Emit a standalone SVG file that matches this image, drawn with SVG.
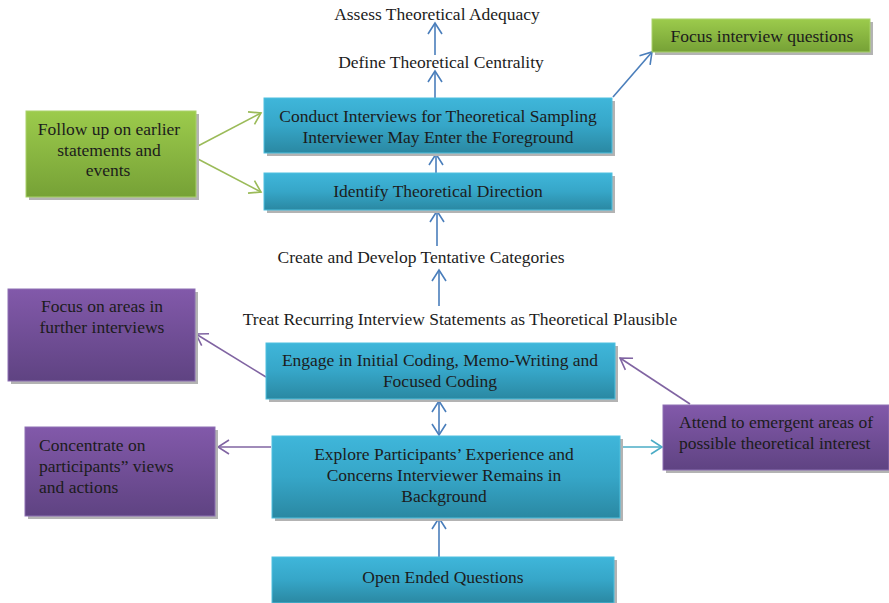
<svg xmlns="http://www.w3.org/2000/svg" width="889" height="603" viewBox="0 0 889 603">
  <style>
    text { font-family: "Liberation Serif", "Times New Roman", serif; font-size: 17.5px; fill: #1c1c1c; }
    .c { text-anchor: middle; }
    .shadow { fill: #b3b3b3; }
    .blue { fill: url(#gBlue); stroke: #4fc0df; stroke-width: 1; }
    .green { fill: url(#gGreen); stroke: #a9d26a; stroke-width: 1; }
    .purple { fill: url(#gPurple); stroke: #8d70b3; stroke-width: 1; }
    .ab { stroke: #4a7ebb; stroke-width: 1.6; fill: none; marker-end: url(#mBlue); }
    .ag { stroke: #9bbb59; stroke-width: 1.6; fill: none; marker-end: url(#mGreen); }
    .ap { stroke: #8064a2; stroke-width: 1.6; fill: none; marker-end: url(#mPurple); }
    .at { stroke: #4bacc6; stroke-width: 1.6; fill: none; marker-end: url(#mTeal); }
  </style>
  <defs>
    <linearGradient id="gBlue" x1="0" y1="0" x2="0" y2="1">
      <stop offset="0" stop-color="#3fb6da"/>
      <stop offset="0.5" stop-color="#36a6c8"/>
      <stop offset="1" stop-color="#2a88a2"/>
    </linearGradient>
    <linearGradient id="gGreen" x1="0" y1="0" x2="0" y2="1">
      <stop offset="0" stop-color="#9ccb4c"/>
      <stop offset="1" stop-color="#76a136"/>
    </linearGradient>
    <linearGradient id="gPurple" x1="0" y1="0" x2="0" y2="1">
      <stop offset="0" stop-color="#8259aa"/>
      <stop offset="1" stop-color="#5f4382"/>
    </linearGradient>
    <marker id="mBlue" markerUnits="userSpaceOnUse" viewBox="-12 -8 14 16" markerWidth="14" markerHeight="16" refX="0" refY="0" orient="auto-start-reverse">
      <path d="M-11,-7 L0,0 L-11,7" fill="none" stroke="#4a7ebb" stroke-width="1.6"/>
    </marker>
    <marker id="mGreen" markerUnits="userSpaceOnUse" viewBox="-12 -8 14 16" markerWidth="14" markerHeight="16" refX="0" refY="0" orient="auto">
      <path d="M-11,-7 L0,0 L-11,7" fill="none" stroke="#9bbb59" stroke-width="1.6"/>
    </marker>
    <marker id="mPurple" markerUnits="userSpaceOnUse" viewBox="-12 -8 14 16" markerWidth="14" markerHeight="16" refX="0" refY="0" orient="auto">
      <path d="M-11,-7 L0,0 L-11,7" fill="none" stroke="#8064a2" stroke-width="1.6"/>
    </marker>
    <marker id="mTeal" markerUnits="userSpaceOnUse" viewBox="-12 -8 14 16" markerWidth="14" markerHeight="16" refX="0" refY="0" orient="auto">
      <path d="M-11,-7 L0,0 L-11,7" fill="none" stroke="#4bacc6" stroke-width="1.6"/>
    </marker>
  </defs>

  <rect width="889" height="603" fill="#ffffff"/>

  <g id="connectors">
    <line class="ab" x1="435" y1="55" x2="435" y2="23"/>
    <line class="ab" x1="435" y1="98" x2="435" y2="71"/>
    <line class="ab" x1="436" y1="173" x2="436" y2="154"/>
    <line class="ab" x1="437" y1="246" x2="437" y2="211"/>
    <line class="ab" x1="439" y1="306" x2="439" y2="270"/>
    <line class="ab" x1="439" y1="401" x2="439" y2="435" marker-start="url(#mBlue)"/>
    <line class="ab" x1="439" y1="557" x2="439" y2="518"/>
    <line class="ab" x1="613" y1="97" x2="652" y2="52"/>
    <line class="ag" x1="196" y1="147" x2="261" y2="113"/>
    <line class="ag" x1="196" y1="158" x2="261" y2="192"/>
    <line class="ap" x1="266" y1="377" x2="196" y2="334"/>
    <line class="ap" x1="690" y1="404" x2="620" y2="358"/>
    <line class="ap" x1="271" y1="447" x2="218" y2="447"/>
    <line class="at" x1="621" y1="447" x2="662" y2="447"/>
  </g>

  <g id="assess">
    <text class="c" x="437" y="20">Assess Theoretical Adequacy</text>
  </g>
  <g id="define">
    <text class="c" x="441" y="68">Define Theoretical Centrality</text>
  </g>

  <g id="conduct">
    <rect class="shadow" x="267" y="101" width="348" height="55"/>
    <rect class="blue" x="264" y="98" width="348" height="55"/>
    <text class="c" x="438" y="122">Conduct Interviews for Theoretical Sampling</text>
    <text class="c" x="438" y="143">Interviewer May Enter the Foreground</text>
  </g>

  <g id="identify">
    <rect class="shadow" x="267" y="176" width="348" height="37"/>
    <rect class="blue" x="264" y="173" width="348" height="37"/>
    <text class="c" x="438" y="197">Identify Theoretical Direction</text>
  </g>

  <g id="follow-up">
    <rect class="shadow" x="29" y="114" width="170" height="86"/>
    <rect class="green" x="26" y="111" width="170" height="86"/>
    <text class="c" x="109" y="135">Follow up on earlier</text>
    <text class="c" x="109" y="156">statements and</text>
    <text class="c" x="108" y="176">events</text>
  </g>

  <g id="focus-questions">
    <rect class="shadow" x="655" y="22" width="218" height="33"/>
    <rect class="green" x="652" y="19" width="218" height="33"/>
    <text class="c" x="762" y="42">Focus interview questions</text>
  </g>

  <g id="create">
    <text class="c" x="421" y="263">Create and Develop Tentative Categories</text>
  </g>
  <g id="treat">
    <text class="c" x="460" y="325">Treat Recurring Interview Statements as Theoretical Plausible</text>
  </g>

  <g id="focus-areas">
    <rect class="shadow" x="11" y="292" width="187" height="92"/>
    <rect class="purple" x="8" y="289" width="187" height="92"/>
    <text class="c" x="102" y="312">Focus on areas in</text>
    <text class="c" x="102" y="333">further interviews</text>
  </g>

  <g id="engage">
    <rect class="shadow" x="269" y="346" width="349" height="56"/>
    <rect class="blue" x="266" y="343" width="349" height="56"/>
    <text class="c" x="440" y="366">Engage in Initial Coding, Memo-Writing and</text>
    <text class="c" x="440" y="387">Focused Coding</text>
  </g>

  <g id="attend">
    <rect class="shadow" x="666" y="408" width="226" height="65"/>
    <rect class="purple" x="663" y="405" width="226" height="65"/>
    <text x="679" y="428">Attend to emergent areas of</text>
    <text x="679" y="449">possible theoretical interest</text>
  </g>

  <g id="concentrate">
    <rect class="shadow" x="28" y="430" width="190" height="89"/>
    <rect class="purple" x="25" y="427" width="190" height="89"/>
    <text x="39" y="451">Concentrate on</text>
    <text x="39" y="472">participants” views</text>
    <text x="39" y="493">and actions</text>
  </g>

  <g id="explore">
    <rect class="shadow" x="275" y="439" width="348" height="82"/>
    <rect class="blue" x="272" y="436" width="348" height="82"/>
    <text class="c" x="444" y="460">Explore Participants’ Experience and</text>
    <text class="c" x="444" y="481">Concerns Interviewer Remains in</text>
    <text class="c" x="444" y="502">Background</text>
  </g>

  <g id="open-ended">
    <rect class="shadow" x="275" y="560" width="342" height="46"/>
    <rect class="blue" x="272" y="557" width="342" height="46"/>
    <text class="c" x="443" y="583">Open Ended Questions</text>
  </g>
</svg>
